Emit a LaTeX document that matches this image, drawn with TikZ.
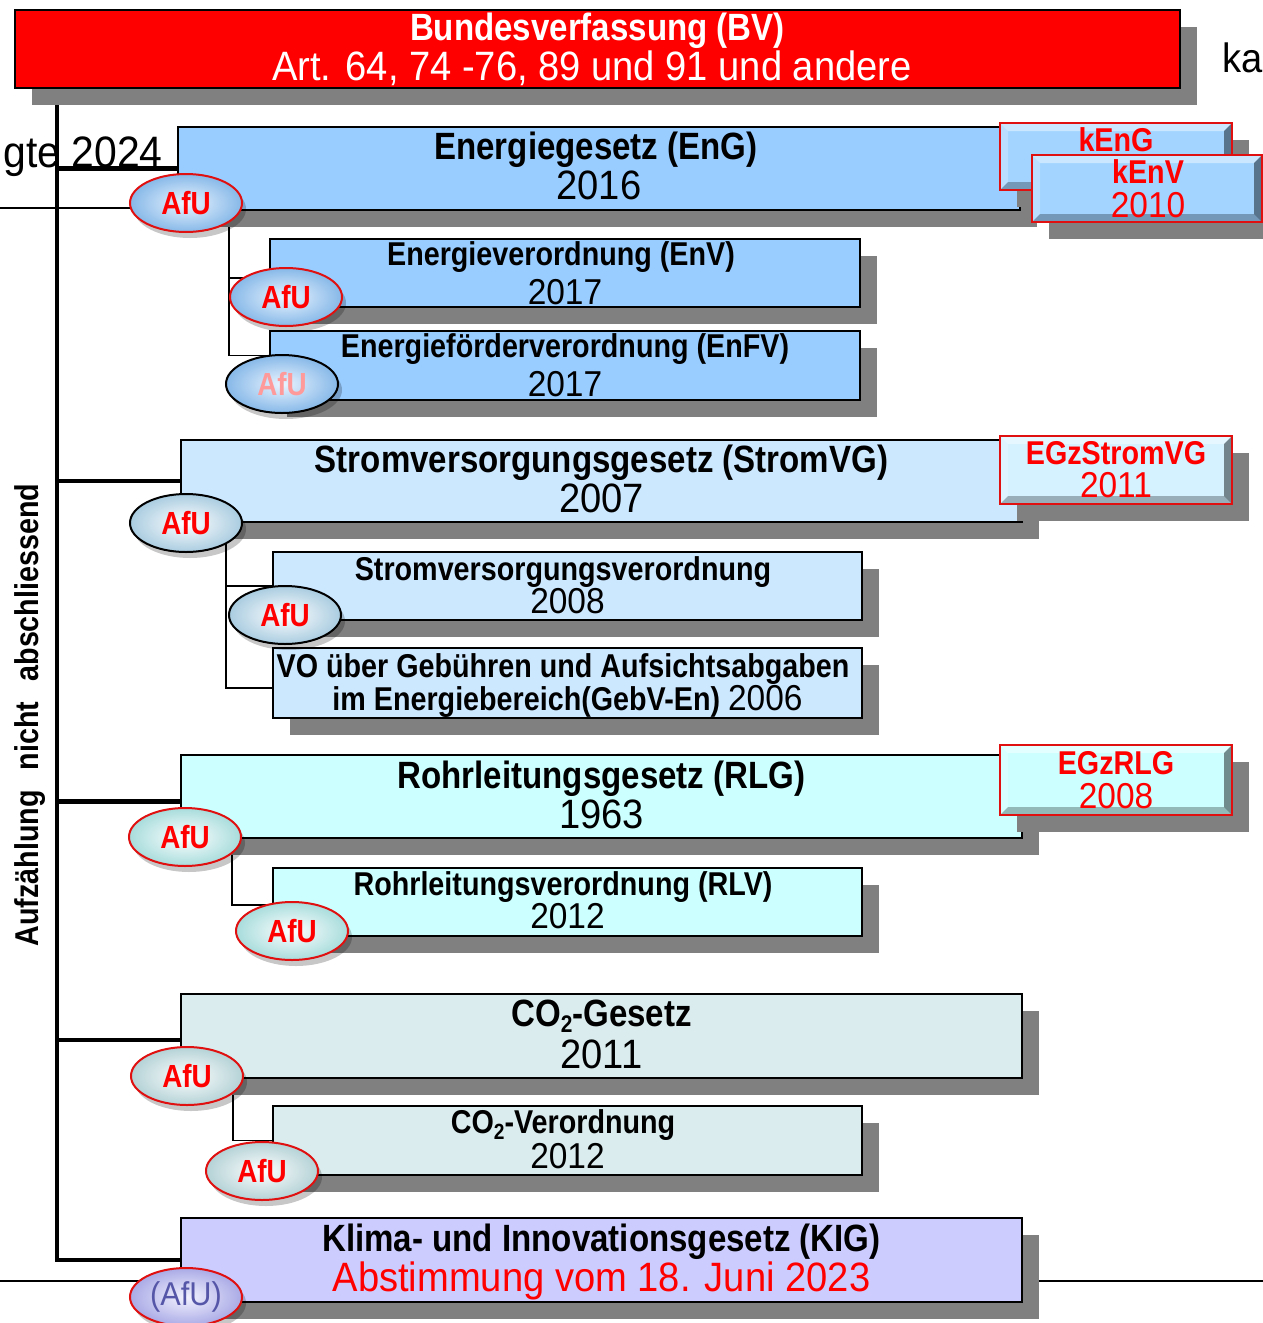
\documentclass[tikz,border=0pt]{standalone}
\usepackage{fontspec}
\setmainfont{Liberation Sans}[UprightFeatures={FakeStretch=0.93},BoldFeatures={FakeStretch=0.87}]
\usetikzlibrary{shapes.geometric,shadows}
\pgfdeclarelayer{bg}
\pgfsetlayers{bg,main}
\definecolor{shgray}{HTML}{808080}
\definecolor{bvred}{HTML}{FF0000}
\definecolor{cEn}{HTML}{99CCFF}
\definecolor{cStrom}{HTML}{CCE8FF}
\definecolor{cRL}{HTML}{CCFFFF}
\definecolor{cCO}{HTML}{DAECEE}
\definecolor{cKIG}{HTML}{CCCCFF}
\definecolor{cBevEn}{HTML}{A2D4FF}
\definecolor{cBevStrom}{HTML}{D4F2FF}
\definecolor{afured}{HTML}{E01010}
\definecolor{afupink}{HTML}{FF9A9A}
\definecolor{afupurple}{HTML}{5656A8}
\definecolor{rimEn}{HTML}{86B8E8}
\definecolor{rimStrom}{HTML}{A9CCE0}
\definecolor{rimRL}{HTML}{A8DCDC}
\definecolor{rimCO}{HTML}{B4D2D6}
\definecolor{rimKIG}{HTML}{AAAAE6}
\newcommand\Tbig{\fontsize{38}{40}\selectfont\bfseries}
\newcommand\Ybig{\fontsize{41}{44}\selectfont\mdseries}
\newcommand\Tsub{\fontsize{33}{36}\selectfont\bfseries}
\newcommand\Ysub{\fontsize{36}{40}\selectfont\mdseries}
\newcommand\Tafu{\fontsize{32}{34}\selectfont\bfseries}
\newcommand\Tvert{\fontsize{33}{36}\selectfont\bfseries}
\newcommand\bevelize[1]{%
  \fill[white,opacity=.45] (#1.north west) -- (#1.north east) -- ([shift={(-8,8)}]#1.north east) -- ([shift={(8,8)}]#1.north west) -- cycle;
  \fill[white,opacity=.25] (#1.north west) -- (#1.south west) -- ([shift={(8,-8)}]#1.south west) -- ([shift={(8,8)}]#1.north west) -- cycle;
  \fill[black,opacity=.28] (#1.south west) -- (#1.south east) -- ([shift={(-8,-8)}]#1.south east) -- ([shift={(8,-8)}]#1.south west) -- cycle;
  \fill[black,opacity=.45] (#1.north east) -- (#1.south east) -- ([shift={(-8,-8)}]#1.south east) -- ([shift={(-8,8)}]#1.north east) -- cycle;
  \draw[afured,line width=2pt] (#1.north west) rectangle (#1.south east);}
\tikzset{
  shad/.style={drop shadow={shadow xshift=17pt,shadow yshift=-17pt,fill=shgray,opacity=1}},
  box/.style={rectangle,draw=black,line width=2.2pt,inner sep=0pt,outer sep=0pt,shad},
  bevbox/.style={rectangle,draw=afured,line width=2pt,inner sep=0pt,outer sep=0pt,shad},
  lbl/.style={inner sep=0pt,anchor=base},
  afu/.style={ellipse,line width=2pt,minimum width=112pt,minimum height=58pt,inner sep=0pt,
    font=\Tafu,text=red,shading=radial,
    drop shadow={shadow xshift=4pt,shadow yshift=-6pt,fill=black,opacity=.22}},
  afuRed/.style={afu,draw=afured},
  afuBlk/.style={afu,draw=black},
  trunk/.style={line width=4.5pt,black},
  twig/.style={line width=1.8pt,black},
  thin/.style={line width=1.2pt,black}
}
\begin{document}
\begin{tikzpicture}[x=1pt,y=-1pt]
\useasboundingbox (0,0) rectangle (1263,1323);
\clip (0,0) rectangle (1263,1323);

% background fragments
\node[lbl,anchor=base east,font=\fontsize{44}{46}\selectfont] (bgleft) at (163,167) {gte 2024};
\node[lbl,anchor=base west,font=\Ybig] (bgright) at (1222,72) {ka};

% main boxes
\node[box,fill=bvred,minimum width=1165pt,minimum height=78pt] (bv) at (597.5,49) {};
\node[box,fill=cEn,minimum width=842pt,minimum height=83pt] (eng) at (599,168.5) {};
\node[box,fill=cEn,minimum width=590pt,minimum height=68pt] (env) at (565,273) {};
\node[box,fill=cEn,minimum width=590pt,minimum height=69pt] (enfv) at (565,365.5) {};
\node[box,fill=cStrom,minimum width=841pt,minimum height=82pt] (svg) at (601.5,481) {};
\node[box,fill=cStrom,minimum width=589pt,minimum height=68pt] (svo) at (567.5,586) {};
\node[box,fill=cStrom,minimum width=589pt,minimum height=70pt] (geb) at (567.5,683) {};
\node[box,fill=cRL,minimum width=841pt,minimum height=83pt] (rlg) at (601.5,796.5) {};
\node[box,fill=cRL,minimum width=589pt,minimum height=68pt] (rlv) at (567.5,902) {};
\node[box,fill=cCO,minimum width=841pt,minimum height=84pt] (co) at (601.5,1036) {};
\node[box,fill=cCO,minimum width=589pt,minimum height=69pt] (covo) at (567.5,1140.5) {};
\node[box,fill=cKIG,minimum width=841pt,minimum height=84pt] (kig) at (601.5,1260) {};

% bevelled boxes
\node[bevbox,fill=cBevEn,minimum width=232pt,minimum height=67pt] (keng) at (1116,156.5) {};
\bevelize{keng}
\node[bevbox,fill=cBevEn,minimum width=230pt,minimum height=67pt] (kenv) at (1147,188.5) {};
\bevelize{kenv}
\node[bevbox,fill=cBevStrom,minimum width=232pt,minimum height=68pt] (egzs) at (1116,470) {};
\bevelize{egzs}
\node[bevbox,fill=cRL,minimum width=232pt,minimum height=70pt] (egzr) at (1116,780) {};
\bevelize{egzr}

% connector anchors
\coordinate (trunktop) at (57,95);
\coordinate (engb) at (eng.west);
\coordinate (svgb) at (svg.west);
\coordinate (rlgb) at ([yshift=-5pt]rlg.west);
\coordinate (cob) at ([yshift=-4pt]co.west);

% AfU ellipses
\node[afuRed,inner color=cEn!20!white,outer color=rimEn] (a-eng) at (186,203) {AfU};
\node[afuRed,inner color=cEn!20!white,outer color=rimEn] (a-env) at (286,297) {AfU};
\node[afuBlk,inner color=cEn!20!white,outer color=rimEn,text=afupink] (a-enfv) at (282,384) {AfU};
\node[afuBlk,inner color=white,outer color=rimStrom] (a-svg) at (186,523) {AfU};
\node[afuBlk,inner color=white,outer color=rimStrom] (a-svo) at (285,615) {AfU};
\node[afuRed,inner color=white,outer color=rimRL] (a-rlg) at (185,837) {AfU};
\node[afuRed,inner color=white,outer color=rimRL] (a-rlv) at (292,931) {AfU};
\node[afuRed,inner color=white,outer color=rimCO] (a-co) at (187,1076) {AfU};
\node[afuRed,inner color=white,outer color=rimCO] (a-covo) at (262,1171) {AfU};
\node[afuRed,inner color=cKIG!25!white,outer color=rimKIG,font=\fontsize{33}{34}\selectfont\mdseries,text=afupurple] (a-kig) at (186,1297) {(AfU)};

\begin{pgfonlayer}{bg}
  \draw[thin] (0,208) -- (200,208);
  \draw[thin] (0,1281) -- (1263,1281);
  \draw[trunk] (trunktop) |- (kig.west);
  \draw[trunk] (trunktop |- engb) -- (engb);
  \draw[trunk] (trunktop |- svgb) -- (svgb);
  \draw[trunk] (trunktop |- rlgb) -- (rlgb);
  \draw[trunk] (trunktop |- cob) -- (cob);
  \draw[twig] ([xshift=43pt]a-eng.center) |- ([yshift=-5pt]env.west);
  \draw[twig] ([xshift=43pt]a-eng.center) |- ([yshift=10pt]enfv.west);
  \draw[twig] ([xshift=40pt]a-svg.center) |- (svo.west);
  \draw[twig] ([xshift=40pt]a-svg.center) |- ([yshift=-5pt]geb.west);
  \draw[twig] ([xshift=47pt]a-rlg.center) |- ([yshift=-3pt]rlv.west);
  \draw[twig] ([xshift=46pt]a-co.center) |- (covo.west);
\end{pgfonlayer}

% texts
\node[lbl,text=white,font=\Tbig] (bv-t) at (597.5,40.5) {Bundesverfassung (BV)};
\node[lbl,text=white,font=\Ybig] (bv-s) at (592,80) {Art. 64, 74 -76, 89 und 91 und andere};
\node[lbl,font=\Tbig] (eng-t) at (596,159.5) {Energiegesetz (EnG)};
\node[lbl,font=\Ybig] (eng-y) at (599,199) {2016};
\node[lbl,font=\Tsub] (env-t) at (561,265) {Energieverordnung (EnV)};
\node[lbl,font=\Ysub] (env-y) at (565,304) {2017};
\node[lbl,font=\Tsub] (enfv-t) at (565,357) {Energieförderverordnung (EnFV)};
\node[lbl,font=\Ysub] (enfv-y) at (565,396) {2017};
\node[lbl,font=\Tbig] (svg-t) at (601.5,472.5) {Stromversorgungsgesetz (StromVG)};
\node[lbl,font=\Ybig] (svg-y) at (601.5,512) {2007};
\node[lbl,font=\Tsub] (svo-t) at (563,580) {Stromversorgungsverordnung};
\node[lbl,font=\Ysub] (svo-y) at (567.5,613) {2008};
\node[lbl,font=\Tsub] (geb-t) at (563,677) {VO über Gebühren und Aufsichtsabgaben};
\node[lbl,font=\Tsub] (geb-u) at (567.5,710) {im Energiebereich(GebV-En) {\Ysub 2006}};
\node[lbl,font=\Tbig] (rlg-t) at (601.5,788.5) {Rohrleitungsgesetz (RLG)};
\node[lbl,font=\Ybig] (rlg-y) at (601.5,828) {1963};
\node[lbl,font=\Tsub] (rlv-t) at (563,895) {Rohrleitungsverordnung (RLV)};
\node[lbl,font=\Ysub] (rlv-y) at (567.5,928) {2012};
\node[lbl,font=\Tbig] (co-t) at (601.5,1026.5) {CO\raisebox{-6pt}{\fontsize{24}{24}\selectfont 2}-Gesetz};
\node[lbl,font=\Ybig] (co-y) at (601.5,1068) {2011};
\node[lbl,font=\Tsub] (covo-t) at (563,1133) {CO\raisebox{-6pt}{\fontsize{22}{22}\selectfont 2}-Verordnung};
\node[lbl,font=\Ysub] (covo-y) at (567.5,1168) {2012};
\node[lbl,font=\Tbig] (kig-t) at (601.5,1251.5) {Klima- und Innovationsgesetz (KIG)};
\node[lbl,font=\Ybig,text=red] (kig-s) at (601.5,1291) {Abstimmung vom 18. Juni 2023};

\node[lbl,font=\Tsub,text=red] (keng-t) at (1116,151) {kEnG};
\node[lbl,font=\Tsub,text=red] (kenv-t) at (1148,183) {kEnV};
\node[lbl,font=\Ysub,text=red] (kenv-y) at (1148,217) {2010};
\node[lbl,font=\Tsub,text=red] (egzs-t) at (1116,464) {EGzStromVG};
\node[lbl,font=\Ysub,text=red] (egzs-y) at (1116,497) {2011};
\node[lbl,font=\Tsub,text=red] (egzr-t) at (1116,774) {EGzRLG};
\node[lbl,font=\Ysub,text=red] (egzr-y) at (1116,808) {2008};

% vertical note
\node[rotate=90,inner sep=0pt,font=\Tvert] (note) at (30,715) {Aufzählung\hspace{20pt}nicht\hspace{20pt}abschliessend};
\end{tikzpicture}
\end{document}
